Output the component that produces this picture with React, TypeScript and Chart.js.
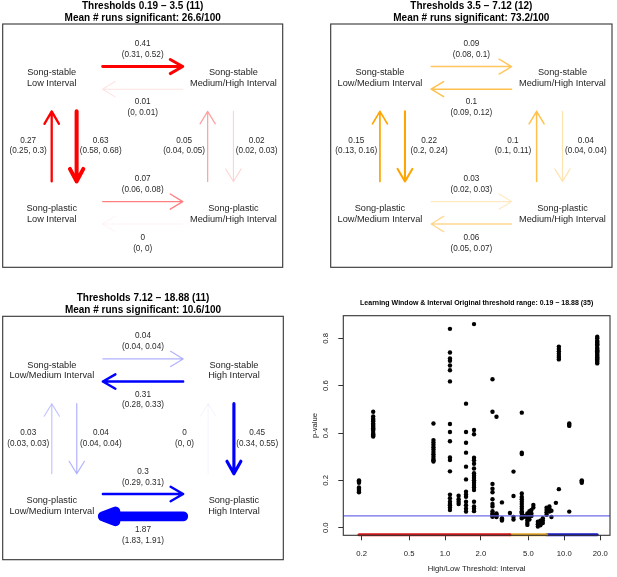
import React, { useEffect, useRef } from 'react';
import { Chart, registerables } from 'chart.js';

Chart.register(...registerables);

const FONT = '"Liberation Sans", Arial, Helvetica, sans-serif';

// ---------------- transition diagrams: data ----------------
// transition order: [TL->TR, TR->TL, BL->TL, TL->BL, BR->TR, TR->BR, BL->BR, BR->BL]
const panel1Title = ['Thresholds 0.19 − 3.5 (11)', 'Mean # runs significant: 26.6/100'];
const panel1Nodes = [
  ['Song-stable', 'Low Interval'],
  ['Song-stable', 'Medium/High Interval'],
  ['Song-plastic', 'Low Interval'],
  ['Song-plastic', 'Medium/High Interval'],
];
const panel1Rates = [0.41, 0.01, 0.27, 0.63, 0.05, 0.02, 0.07, 0];
const panel1Low = [0.31, 0, 0.25, 0.58, 0.04, 0.02, 0.06, 0];
const panel1High = [0.52, 0.01, 0.3, 0.68, 0.05, 0.03, 0.08, 0];

const panel2Title = ['Thresholds 3.5 − 7.12 (12)', 'Mean # runs significant: 73.2/100'];
const panel2Nodes = [
  ['Song-stable', 'Low/Medium Interval'],
  ['Song-stable', 'Medium/High Interval'],
  ['Song-plastic', 'Low/Medium Interval'],
  ['Song-plastic', 'Medium/High Interval'],
];
const panel2Rates = [0.09, 0.1, 0.15, 0.22, 0.1, 0.04, 0.03, 0.06];
const panel2Low = [0.08, 0.09, 0.13, 0.2, 0.1, 0.04, 0.02, 0.05];
const panel2High = [0.1, 0.12, 0.16, 0.24, 0.11, 0.04, 0.03, 0.07];

const panel3Title = ['Thresholds 7.12 − 18.88 (11)', 'Mean # runs significant: 10.6/100'];
const panel3Nodes = [
  ['Song-stable', 'Low/Medium Interval'],
  ['Song-stable', 'High Interval'],
  ['Song-plastic', 'Low/Medium Interval'],
  ['Song-plastic', 'High Interval'],
];
const panel3Rates = [0.04, 0.31, 0.03, 0.04, 0, 0.45, 0.3, 1.87];
const panel3Low = [0.04, 0.28, 0.03, 0.04, 0, 0.34, 0.29, 1.83];
const panel3High = [0.04, 0.33, 0.03, 0.04, 0, 0.55, 0.31, 1.91];

// ---------------- scatter: data ----------------
const scatterTitle = 'Learning Window & Interval Original threshold range: 0.19 − 18.88 (35)';
const thresholdX = [0.19, 0.25, 0.8, 1.1, 1.3, 1.5, 1.75, 2.5, 2.7, 3.0, 3.5, 3.75, 4.4, 4.6, 4.9, 5.1, 5.3, 5.5, 6.0, 6.3, 6.6, 7.1, 7.5, 7.8, 8.5, 9.0, 11, 14, 18.88];
const pValues = [
  [0.2, 0.195, 0.19, 0.17, 0.165, 0.16, 0.155, 0.15],
  [0.49, 0.47, 0.46, 0.455, 0.45, 0.44, 0.435, 0.43, 0.425, 0.42, 0.415, 0.41, 0.4, 0.395, 0.39, 0.385],
  [0.44, 0.37, 0.36, 0.35, 0.34, 0.33, 0.32, 0.31, 0.3, 0.29, 0.285, 0.28],
  [0.84, 0.74, 0.715, 0.705, 0.685, 0.665, 0.618, 0.438, 0.404, 0.365, 0.297, 0.286, 0.238, 0.14, 0.125, 0.11, 0.1, 0.095, 0.085, 0.075],
  [0.135, 0.12, 0.11, 0.1],
  [0.524, 0.404, 0.359, 0.317, 0.258, 0.204, 0.152, 0.14, 0.131, 0.11, 0.095, 0.08, 0.068],
  [0.86, 0.413, 0.395, 0.296, 0.285, 0.27, 0.25, 0.23, 0.22, 0.21, 0.2, 0.19, 0.18, 0.17, 0.159, 0.11, 0.09, 0.08, 0.07],
  [0.627, 0.49, 0.185, 0.165, 0.15, 0.12, 0.1, 0.09, 0.07, 0.06, 0.055, 0.05, 0.046],
  [0.469, 0.06, 0.055, 0.05, 0.045],
  [0.107, 0.04, 0.035, 0.03],
  [0.062],
  [0.237, 0.134, 0.046, 0.035],
  [0.486, 0.317, 0.311, 0.145, 0.13, 0.12, 0.11, 0.1, 0.09, 0.08, 0.07, 0.065, 0.06, 0.05, 0.045, 0.04],
  [0.05, 0.046],
  [0.06, 0.05, 0.04, 0.03, 0.02, 0.012],
  [0.07, 0.06, 0.05, 0.035],
  [0.075, 0.06, 0.05],
  [0.096, 0.085],
  [0.025, 0.015, 0.005],
  [0.03, 0.02, 0.01],
  [0.04, 0.03, 0.02],
  [0.085, 0.075, 0.065, 0.055],
  [0.09, 0.08, 0.068],
  [0.072, 0.045],
  [0.105],
  [0.765, 0.755, 0.745, 0.735, 0.725, 0.718, 0.711, 0.163],
  [0.44, 0.435, 0.43, 0.068],
  [0.2, 0.195, 0.19],
  [0.807, 0.8, 0.79, 0.785, 0.78, 0.775, 0.77, 0.76, 0.755, 0.75, 0.745, 0.74, 0.735, 0.73, 0.725, 0.72, 0.715, 0.71, 0.705, 0.7, 0.694],
];
const xTickValues = [0.2, 0.5, 1, 2, 5, 10, 20];
const xTickLabels = ['0.2', '0.5', '1.0', '2.0', '5.0', '10.0', '20.0'];
const yTickValues = [0, 0.2, 0.4, 0.6, 0.8];
const yTickLabels = ['0.0', '0.2', '0.4', '0.6', '0.8'];
const thresholdBreaks = [0.19, 3.5, 7.12, 18.88];
const significanceP = 0.05;
const thresholdBarP = -0.03;

// ---------------- layout / style ----------------
const DIAGRAM_RGB = [[255, 0, 0], [255, 165, 0], [0, 0, 255]];
const BAR_COLORS = ['#dc1414', '#e8a62a', '#1818c8'];
// node label centres (fractions of the box)
const NODE_POS = [[0.175, 0.222], [0.824, 0.222], [0.175, 0.78], [0.824, 0.78]];
// arrow geometry for each transition (fractions of the box), label centre
const ARROWS = [
  { x0: 0.357, y0: 0.175, x1: 0.643, y1: 0.175, lx: 0.5, ly: 0.104 },
  { x0: 0.643, y0: 0.268, x1: 0.357, y1: 0.268, lx: 0.5, ly: 0.343 },
  { x0: 0.175, y0: 0.647, x1: 0.175, y1: 0.359, lx: 0.091, ly: 0.5 },
  { x0: 0.264, y0: 0.359, x1: 0.264, y1: 0.647, lx: 0.35, ly: 0.5 },
  { x0: 0.732, y0: 0.647, x1: 0.732, y1: 0.359, lx: 0.648, ly: 0.5 },
  { x0: 0.824, y0: 0.359, x1: 0.824, y1: 0.647, lx: 0.907, ly: 0.5 },
  { x0: 0.357, y0: 0.73, x1: 0.643, y1: 0.73, lx: 0.5, ly: 0.66 },
  { x0: 0.643, y0: 0.822, x1: 0.357, y1: 0.822, lx: 0.5, ly: 0.9 },
];

const panels = [
  { title: panel1Title, nodes: panel1Nodes, rates: panel1Rates, low: panel1Low, high: panel1High },
  { title: panel2Title, nodes: panel2Nodes, rates: panel2Rates, low: panel2Low, high: panel2High },
  { title: panel3Title, nodes: panel3Nodes, rates: panel3Rates, low: panel3Low, high: panel3High },
];

const PANEL_BOXES = [
  { left: 0, top: 0, w: 308, h: 288, pad: { left: 2.7, right: 25.3, top: 0, bottom: 20.7 } },
  { left: 308, top: 0, w: 309, h: 288, pad: { left: 22.7, right: 5, top: 0, bottom: 20.7 } },
  { left: 0, top: 288, w: 308, h: 289, pad: { left: 2.7, right: 24.7, top: 4.3, bottom: 17.3 } },
];

function drawArrow(ctx: CanvasRenderingContext2D, x0: number, y0: number, x1: number, y1: number, w: number, color: string) {
  const len = Math.hypot(x1 - x0, y1 - y0);
  const ux = (x1 - x0) / len;
  const uy = (y1 - y0) / len;
  const along = 12.5;
  const half = Math.max(4.5, 8 - 0.32 * w);
  const bx = x1 - ux * along;
  const by = y1 - uy * along;
  ctx.strokeStyle = color;
  ctx.lineWidth = w;
  ctx.lineCap = 'round';
  ctx.lineJoin = 'round';
  ctx.beginPath();
  ctx.moveTo(x0, y0);
  ctx.lineTo(x1, y1);
  ctx.moveTo(bx - uy * half, by + ux * half);
  ctx.lineTo(x1, y1);
  ctx.lineTo(bx + uy * half, by - ux * half);
  ctx.stroke();
}

function diagramPlugin(idx: number) {
  return {
    id: 'diagram' + idx,
    afterDraw(chart: any) {
      const { ctx, chartArea: ca } = chart;
      const sx = chart.scales.x;
      const sy = chart.scales.y;
      const X = (v: number) => sx.getPixelForValue(v);
      const Y = (v: number) => sy.getPixelForValue(v);
      const p = panels[idx];
      const [r, g, b] = DIAGRAM_RGB[idx];
      ctx.save();
      ctx.strokeStyle = '#333';
      ctx.lineWidth = 1.1;
      ctx.strokeRect(ca.left, ca.top, ca.right - ca.left, ca.bottom - ca.top);

      ARROWS.forEach((a, i) => {
        const v = p.rates[i];
        const alpha = Math.min(1, 0.05 + 6.5 * v);
        const w = 1 + 4.8 * v;
        drawArrow(ctx, X(a.x0), Y(a.y0), X(a.x1), Y(a.y1), w, `rgba(${r},${g},${b},${alpha})`);
      });

      ctx.fillStyle = '#2a2a2a';
      ctx.textAlign = 'center';
      ctx.textBaseline = 'middle';
      ctx.font = `8.2px ${FONT}`;
      ARROWS.forEach((a, i) => {
        const cx = X(a.lx);
        const cy = Y(a.ly);
        ctx.fillText(String(p.rates[i]), cx, cy - 5.4);
        ctx.fillText(`(${p.low[i]}, ${p.high[i]})`, cx, cy + 5.4);
      });

      ctx.font = `9.2px ${FONT}`;
      ctx.fillStyle = '#1e1e1e';
      NODE_POS.forEach((np, i) => {
        const cx = X(np[0]);
        const cy = Y(np[1]);
        ctx.fillText(p.nodes[i][0], cx, cy - 5.3);
        ctx.fillText(p.nodes[i][1], cx, cy + 5.3);
      });
      ctx.restore();
    },
  };
}

function diagramConfig(idx: number): any {
  const box = PANEL_BOXES[idx];
  return {
    type: 'scatter',
    data: { datasets: [] },
    options: {
      animation: false,
      responsive: false,
      devicePixelRatio: 1,
      layout: { padding: box.pad },
      plugins: {
        legend: { display: false },
        tooltip: { enabled: false },
        title: {
          display: true,
          text: panels[idx].title,
          color: '#000',
          font: { family: FONT, size: 10, weight: 'bold', lineHeight: 1.2 },
          padding: { top: 0, bottom: 0 },
        },
      },
      scales: {
        x: { type: 'linear', min: 0, max: 1, display: false },
        y: { type: 'linear', min: 0, max: 1, reverse: true, display: false },
      },
    },
    plugins: [diagramPlugin(idx)],
  };
}

const scatterPlugin = {
  id: 'scatterDecor',
  afterDatasetsDraw(chart: any) {
    const { ctx, chartArea: ca } = chart;
    const sy = chart.scales.y;
    const yp = sy.getPixelForValue(significanceP);
    ctx.save();
    ctx.strokeStyle = 'rgba(100,100,232,0.95)';
    ctx.lineWidth = 1.3;
    ctx.beginPath();
    ctx.moveTo(ca.left, yp);
    ctx.lineTo(ca.right, yp);
    ctx.stroke();
    ctx.restore();
  },
  afterDraw(chart: any) {
    const { ctx, chartArea: ca } = chart;
    const sy = chart.scales.y;
    ctx.save();
    ctx.strokeStyle = '#333';
    ctx.lineWidth = 1.1;
    ctx.strokeRect(ca.left, ca.top, ca.right - ca.left, ca.bottom - ca.top);
    ctx.fillStyle = '#1a1a1a';
    ctx.font = `7.7px ${FONT}`;
    ctx.textAlign = 'center';
    ctx.textBaseline = 'middle';
    yTickValues.forEach((v, i) => {
      const yp = sy.getPixelForValue(v);
      ctx.save();
      ctx.translate(ca.left - 17, yp);
      ctx.rotate(-Math.PI / 2);
      ctx.fillText(yTickLabels[i], 0, 0);
      ctx.restore();
    });
    ctx.restore();
  },
};

function scatterConfig(): any {
  const points: { x: number; y: number }[] = [];
  thresholdX.forEach((x, i) => pValues[i].forEach((y) => points.push({ x, y })));
  const bars = BAR_COLORS.map((c, i) => ({
    type: 'line',
    data: [
      { x: thresholdBreaks[i], y: thresholdBarP },
      { x: thresholdBreaks[i + 1], y: thresholdBarP },
    ],
    borderColor: c,
    borderWidth: 3,
    borderCapStyle: 'round',
    pointRadius: 0,
    showLine: true,
    clip: false,
  }));
  const grid = { display: true, drawOnChartArea: false, drawTicks: true, tickLength: 5, color: '#333', lineWidth: 1 };
  return {
    type: 'scatter',
    data: {
      datasets: [
        ...bars,
        {
          type: 'scatter',
          data: points,
          pointRadius: 2.2,
          pointBackgroundColor: '#000',
          pointBorderWidth: 0,
        },
      ],
    },
    options: {
      animation: false,
      responsive: false,
      devicePixelRatio: 1,
      layout: { padding: { left: 0, right: 7, top: 0, bottom: 0 } },
      plugins: {
        legend: { display: false },
        tooltip: { enabled: false },
        title: {
          display: true,
          fullSize: false,
          text: scatterTitle,
          color: '#000',
          font: { family: FONT, size: 7, weight: 'bold', lineHeight: 1.2 },
          padding: { top: 10.8, bottom: 8.5 },
        },
      },
      scales: {
        x: {
          type: 'logarithmic',
          position: 'bottom',
          min: 0.1404,
          max: 24.15,
          afterFit: (s: any) => {
            s.height = 41.7;
          },
          afterBuildTicks: (s: any) => {
            s.ticks = xTickValues.map((value) => ({ value }));
          },
          ticks: {
            autoSkip: false,
            maxRotation: 0,
            minRotation: 0,
            padding: 9,
            color: '#1a1a1a',
            font: { family: FONT, size: 7.7 },
            callback: (_v: any, i: number) => xTickLabels[i],
          },
          grid,
          border: { display: false },
          title: {
            display: true,
            text: 'High/Low Threshold: Interval',
            color: '#1a1a1a',
            font: { family: FONT, size: 7.7 },
            padding: { top: 0, bottom: 3.7 },
          },
        },
        y: {
          type: 'linear',
          position: 'left',
          min: -0.032,
          max: 0.8955,
          afterFit: (s: any) => {
            s.width = 35.3;
          },
          afterBuildTicks: (s: any) => {
            s.ticks = yTickValues.map((value) => ({ value }));
          },
          ticks: { display: false },
          grid,
          border: { display: false },
          title: {
            display: true,
            text: 'p-value',
            color: '#1a1a1a',
            font: { family: FONT, size: 7.7 },
            padding: { top: 2.1, bottom: 0 },
          },
        },
      },
    },
    plugins: [scatterPlugin],
  };
}

function ChartCanvas({ left, top, w, h, build }: { left: number; top: number; w: number; h: number; build: () => any }) {
  const ref = useRef<HTMLCanvasElement | null>(null);
  useEffect(() => {
    if (!ref.current) return;
    const chart = new Chart(ref.current, build());
    return () => chart.destroy();
  }, []);
  return (
    <canvas
      ref={ref}
      width={w}
      height={h}
      style={{ position: 'absolute', left, top, width: w, height: h }}
    />
  );
}

export default function App() {
  return (
    <div style={{ position: 'absolute', left: 0, top: 0, width: 617, height: 577, background: '#fff', overflow: 'hidden' }}>
      {PANEL_BOXES.map((b, i) => (
        <ChartCanvas key={i} left={b.left} top={b.top} w={b.w} h={b.h} build={() => diagramConfig(i)} />
      ))}
      <ChartCanvas left={308} top={288} w={309} h={289} build={scatterConfig} />
    </div>
  );
}
